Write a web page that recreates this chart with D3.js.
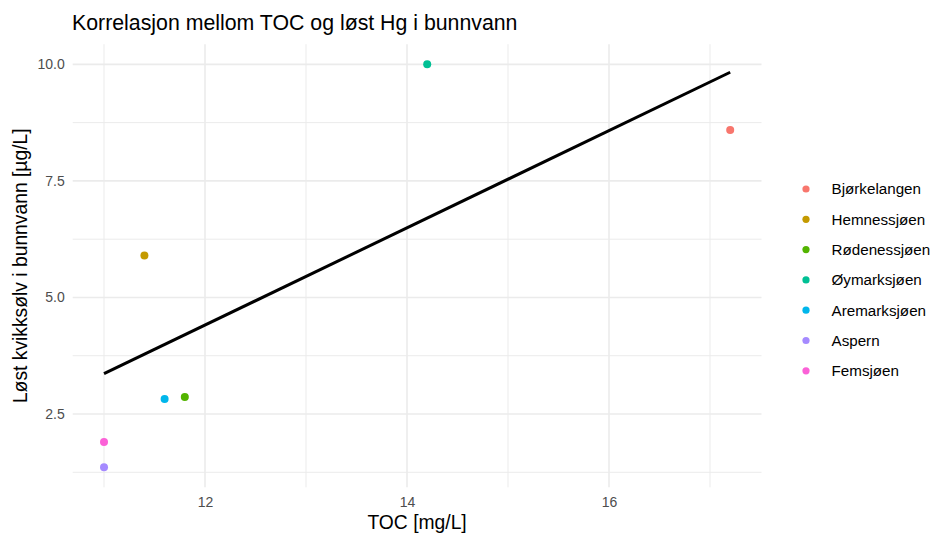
<!DOCTYPE html>
<html>
<head>
<meta charset="utf-8">
<script src="https://cdn.jsdelivr.net/npm/d3@7"></script>
<style>
  html, body { margin: 0; padding: 0; background: #fff; }
  text { font-family: "Liberation Sans", Arial, Helvetica, sans-serif; }
</style>
</head>
<body>
<svg id="chart" width="932" height="535"></svg>
<script>
// Lakes, their TOC and dissolved Hg in bottom water
const lakes = ["Bjørkelangen", "Hemnessjøen", "Rødenessjøen", "Øymarksjøen", "Aremarksjøen", "Aspern", "Femsjøen"];
const toc = [17.2, 11.4, 11.8, 14.2, 11.6, 11.0, 11.0];
const hg = [8.59, 5.9, 2.865, 10.0, 2.82, 1.36, 1.90];
const lakeColors = ["#F8766D", "#C49A00", "#53B400", "#00C094", "#00B6EB", "#A58AFF", "#FB61D7"];

// Fitted regression line (end points)
const fitX = [11.0, 17.2];
const fitY = [3.365, 9.83];

const xTicks = [12, 14, 16];
const xMinor = [11, 13, 15, 17];
const yTicks = [2.5, 5.0, 7.5, 10.0];
const yMinor = [1.25, 3.75, 6.25, 8.75];

const svg = d3.select("#chart");
const panel = { left: 72.7, right: 761.5, top: 44.2, bottom: 487.3 };

// 5% expansion of the data range on both axes
const xExt = d3.extent(toc), yExt = d3.extent(hg);
const xPad = (xExt[1] - xExt[0]) * 0.05, yPad = (yExt[1] - yExt[0]) * 0.05;
const x = d3.scaleLinear().domain([xExt[0] - xPad, xExt[1] + xPad]).range([panel.left, panel.right]);
const y = d3.scaleLinear().domain([yExt[0] - yPad, yExt[1] + yPad]).range([panel.bottom, panel.top]);
const color = d3.scaleOrdinal().domain(lakes).range(lakeColors);

const grid = svg.append("g");
grid.selectAll(".xminor").data(xMinor).join("line")
  .attr("x1", d => x(d)).attr("x2", d => x(d))
  .attr("y1", panel.top).attr("y2", panel.bottom)
  .attr("stroke", "#EBEBEB").attr("stroke-width", 1);
grid.selectAll(".yminor").data(yMinor).join("line")
  .attr("y1", d => y(d)).attr("y2", d => y(d))
  .attr("x1", panel.left).attr("x2", panel.right)
  .attr("stroke", "#EBEBEB").attr("stroke-width", 1);
grid.selectAll(".xmajor").data(xTicks).join("line")
  .attr("x1", d => x(d)).attr("x2", d => x(d))
  .attr("y1", panel.top).attr("y2", panel.bottom)
  .attr("stroke", "#EBEBEB").attr("stroke-width", 1.6);
grid.selectAll(".ymajor").data(yTicks).join("line")
  .attr("y1", d => y(d)).attr("y2", d => y(d))
  .attr("x1", panel.left).attr("x2", panel.right)
  .attr("stroke", "#EBEBEB").attr("stroke-width", 1.6);

// Axes (labels only, no domain or tick marks)
const xAxis = svg.append("g").attr("transform", `translate(0,${panel.bottom})`)
  .call(d3.axisBottom(x).tickValues(xTicks).tickSize(0).tickPadding(10).tickFormat(d3.format("d")));
const yAxis = svg.append("g").attr("transform", `translate(${panel.left},0)`)
  .call(d3.axisLeft(y).tickValues(yTicks).tickSize(0).tickPadding(8).tickFormat(d3.format(".1f")));
[xAxis, yAxis].forEach(a => {
  a.select(".domain").remove();
  a.selectAll("text").attr("fill", "#4D4D4D").style("font-size", "14px")
    .style("font-family", "'Liberation Sans', Arial, sans-serif");
});

// Regression line
svg.append("path")
  .datum(fitX.map((d, i) => [d, fitY[i]]))
  .attr("d", d3.line().x(d => x(d[0])).y(d => y(d[1])))
  .attr("stroke", "#000").attr("stroke-width", 3).attr("fill", "none");

// Points
svg.selectAll(".pt").data(lakes).join("circle")
  .attr("cx", (d, i) => x(toc[i])).attr("cy", (d, i) => y(hg[i]))
  .attr("r", 4).attr("fill", d => color(d));

// Titles
svg.append("text").attr("x", 72).attr("y", 30)
  .style("font-size", "21.3px").attr("fill", "#000")
  .text("Korrelasjon mellom TOC og løst Hg i bunnvann");
svg.append("text").attr("x", (panel.left + panel.right) / 2).attr("y", 529)
  .attr("text-anchor", "middle").style("font-size", "19.3px").attr("fill", "#000")
  .text("TOC [mg/L]");
svg.append("text")
  .attr("transform", `translate(27,${(panel.top + panel.bottom) / 2}) rotate(-90)`)
  .attr("text-anchor", "middle").style("font-size", "19.3px").attr("fill", "#000")
  .text("Løst kvikksølv i bunnvann [µg/L]");

// Legend
const legend = svg.append("g").attr("transform", "translate(806,189)");
const rows = legend.selectAll("g").data(lakes).join("g")
  .attr("transform", (d, i) => `translate(0,${i * 30.3})`);
rows.append("circle").attr("r", 3.6).attr("fill", d => color(d));
rows.append("text").attr("x", 25.5).attr("dy", "0.36em")
  .style("font-size", "15.2px").attr("fill", "#000").text(d => d);
</script>
</body>
</html>
